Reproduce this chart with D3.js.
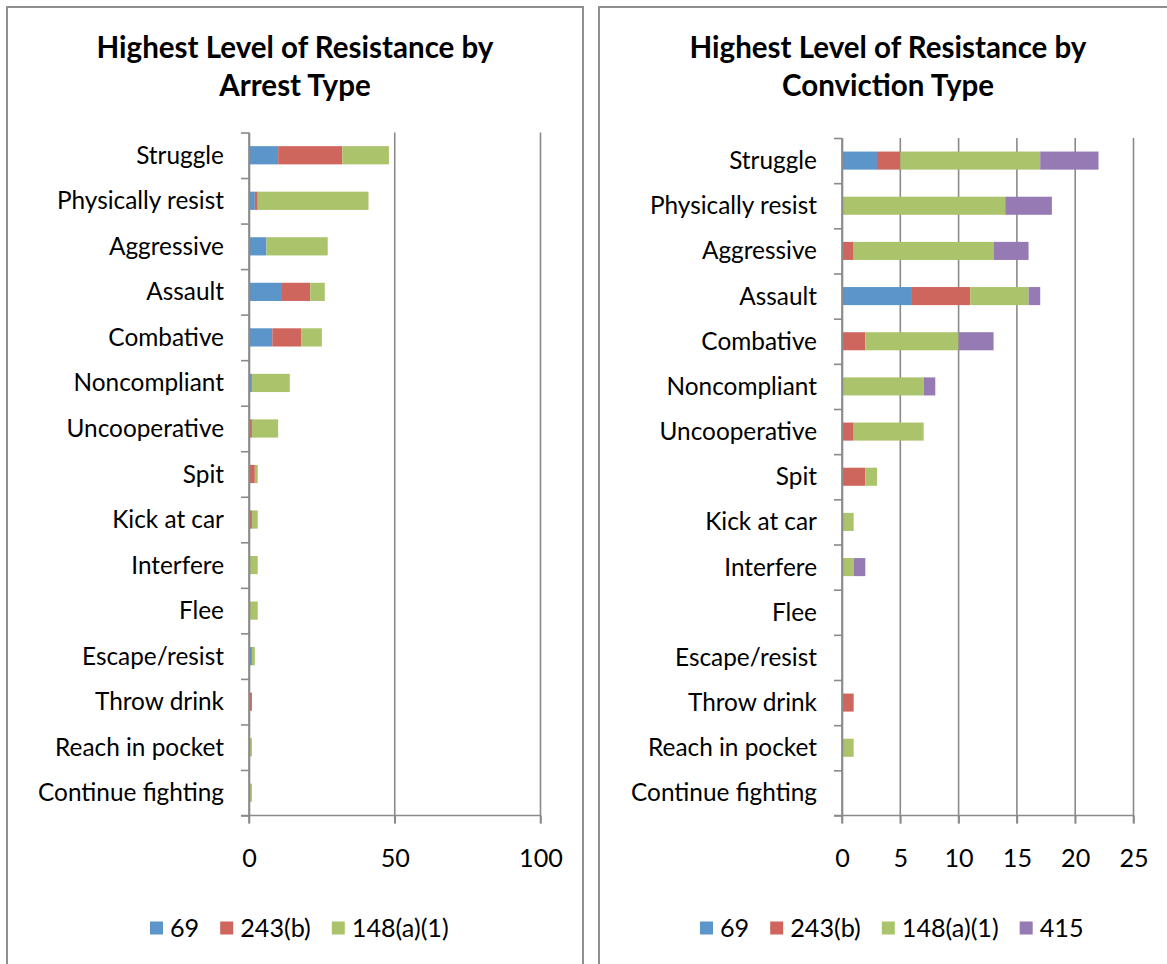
<!DOCTYPE html>
<html>
<head>
<meta charset="utf-8">
<script src="https://cdn.jsdelivr.net/npm/d3@7/dist/d3.min.js"></script>
<style>
  html, body { margin: 0; padding: 0; background: #fff; }
  svg { display: block; }
</style>
</head>
<body>
<svg id="chart" width="1167" height="964"></svg>
<script>
// Resistance categories, top to bottom
const categories = ["Struggle", "Physically resist", "Aggressive", "Assault", "Combative",
  "Noncompliant", "Uncooperative", "Spit", "Kick at car", "Interfere", "Flee",
  "Escape/resist", "Throw drink", "Reach in pocket", "Continue fighting"];

// Series names (penal code sections)
const seriesNames = ["69", "243(b)", "148(a)(1)", "415"];

// Arrest counts per series
const arrest69      = [10, 2, 6, 11, 8, 1, 0, 0, 0, 0, 0, 1, 0, 0, 0];
const arrest243b    = [22, 1, 0, 10, 10, 0, 1, 2, 1, 0, 0, 0, 1, 0, 0];
const arrest148a1   = [16, 38, 21, 5, 7, 13, 9, 1, 2, 3, 3, 1, 0, 1, 1];

// Conviction counts per series
const conviction69    = [3, 0, 0, 6, 0, 0, 0, 0, 0, 0, 0, 0, 0, 0, 0];
const conviction243b  = [2, 0, 1, 5, 2, 0, 1, 2, 0, 0, 0, 0, 1, 0, 0];
const conviction148a1 = [12, 14, 12, 5, 8, 7, 6, 1, 1, 1, 0, 0, 0, 1, 0];
const conviction415   = [5, 4, 3, 1, 3, 1, 0, 0, 0, 1, 0, 0, 0, 0, 0];

// Axis tick values
const arrestTicks = [0, 50, 100];
const convictionTicks = [0, 5, 10, 15, 20, 25];

const colors = ["#5B95C9", "#CF665E", "#ABC46B", "#957AB3"];
const FONT = "Lato, 'Open Sans', sans-serif";
const AXIS_COLOR = "#8a8a8a";

const svg = d3.select("#chart");

// Font size that makes a string span a given width
function fitSize(text, weight, targetWidth) {
  const t = svg.append("text").attr("font-family", FONT).attr("font-weight", weight)
    .attr("font-size", 100).text(text);
  const w = t.node().getComputedTextLength();
  t.remove();
  return 100 * targetWidth / w;
}

const titleSize = fitSize("Highest Level of Resistance by", "bold", 397);
const labelSize = fitSize("Continue fighting", "normal", 186);
const numberSize = (labelSize + fitSize("148(a)(1)", "normal", 100)) / 2;

// Panel frames
svg.append("rect").attr("x", 7).attr("y", 7).attr("width", 576).attr("height", 1000)
  .attr("fill", "#fff").attr("stroke", "#8f8f8f").attr("stroke-width", 2);
svg.append("rect").attr("x", 599).attr("y", 7).attr("width", 620).attr("height", 1000)
  .attr("fill", "#fff").attr("stroke", "#8f8f8f").attr("stroke-width", 2);

function drawChart(cfg) {
  const g = svg.append("g");
  const series = cfg.series;
  const rows = categories.map((c, i) => {
    const r = { category: c };
    series.forEach((s, j) => { r[seriesNames[j]] = s[i]; });
    return r;
  });
  const keys = seriesNames.slice(0, series.length);
  const stacked = d3.stack().keys(keys)(rows);

  const x = d3.scaleLinear().domain([0, cfg.max]).range([cfg.x0, cfg.x1]);
  const y = d3.scaleBand().domain(categories).range([cfg.y0, cfg.y1])
    .paddingInner(0.6).paddingOuter(0.3);
  const yIdx = d3.scaleLinear().domain([0, categories.length]).range([cfg.y0, cfg.y1]);

  // Title
  const title = g.append("text").attr("font-family", FONT).attr("font-weight", "bold")
    .attr("font-size", titleSize).attr("text-anchor", "middle").attr("fill", "#000");
  cfg.title.forEach((line, i) => {
    title.append("tspan").attr("x", cfg.titleX).attr("y", 48 + i * 38).attr("dy", "0.35em").text(line);
  });

  // Vertical gridlines
  g.append("g").selectAll("line").data(cfg.ticks).join("line")
    .attr("x1", d => x(d)).attr("x2", d => x(d))
    .attr("y1", cfg.y0).attr("y2", cfg.y1 + 8)
    .attr("stroke", AXIS_COLOR).attr("stroke-width", 1.6);

  // Stacked bars
  g.append("g").selectAll("g").data(stacked).join("g")
    .attr("fill", (d, i) => colors[i])
    .selectAll("rect").data(d => d).join("rect")
    .attr("x", d => x(d[0]))
    .attr("width", d => x(d[1]) - x(d[0]))
    .attr("y", d => y(d.data.category))
    .attr("height", y.bandwidth());

  // Category axis with boundary ticks
  const yAxis = g.append("g").attr("transform", `translate(${cfg.x0},0)`)
    .call(d3.axisLeft(yIdx).tickValues(d3.range(categories.length + 1)).tickFormat("").tickSize(8).tickSizeOuter(0));
  yAxis.select(".domain").attr("stroke", AXIS_COLOR).attr("stroke-width", 1.6);
  yAxis.selectAll(".tick line").attr("stroke", AXIS_COLOR).attr("stroke-width", 1.6);

  // Category labels
  g.append("g").selectAll("text").data(categories).join("text")
    .attr("x", cfg.x0 - 25).attr("y", d => y(d) + y.bandwidth() / 2).attr("dy", "0.35em")
    .attr("text-anchor", "end").attr("font-family", FONT).attr("font-size", labelSize)
    .attr("fill", "#000").text(d => d);

  // Value axis
  const xAxis = g.append("g").attr("transform", `translate(0,${cfg.y1})`)
    .call(d3.axisBottom(x).tickValues(cfg.ticks).tickSize(8).tickSizeOuter(0).tickPadding(28));
  xAxis.select(".domain").remove();
  g.append("line").attr("x1", cfg.x0 - 8).attr("x2", cfg.x1).attr("y1", cfg.y1).attr("y2", cfg.y1)
    .attr("stroke", AXIS_COLOR).attr("stroke-width", 1.6);
  xAxis.selectAll(".tick line").attr("stroke", AXIS_COLOR).attr("stroke-width", 1.6);
  xAxis.selectAll(".tick text").attr("font-family", FONT).attr("font-size", numberSize)
    .attr("fill", "#000").attr("dy", "0.35em").attr("y", 43);

  // Legend
  const legend = g.append("g");
  let lx = cfg.legendX;
  keys.forEach((k, i) => {
    legend.append("rect").attr("x", lx).attr("y", 928 - 6.5).attr("width", 13).attr("height", 13)
      .attr("fill", colors[i]);
    const t = legend.append("text").attr("x", lx + 20).attr("y", 928).attr("dy", "0.35em")
      .attr("font-family", FONT).attr("font-size", numberSize).attr("fill", "#000").text(k);
    lx += 20 + t.node().getComputedTextLength() + 21;
  });
}

drawChart({
  title: ["Highest Level of Resistance by", "Arrest Type"],
  titleX: 295,
  series: [arrest69, arrest243b, arrest148a1],
  max: 100, ticks: arrestTicks,
  x0: 249, x1: 540.5, y0: 132.5, y1: 815.5,
  legendX: 150
});

drawChart({
  title: ["Highest Level of Resistance by", "Conviction Type"],
  titleX: 888,
  series: [conviction69, conviction243b, conviction148a1, conviction415],
  max: 25, ticks: convictionTicks,
  x0: 842, x1: 1133.5, y0: 138, y1: 815.5,
  legendX: 700
});
</script>
</body>
</html>
